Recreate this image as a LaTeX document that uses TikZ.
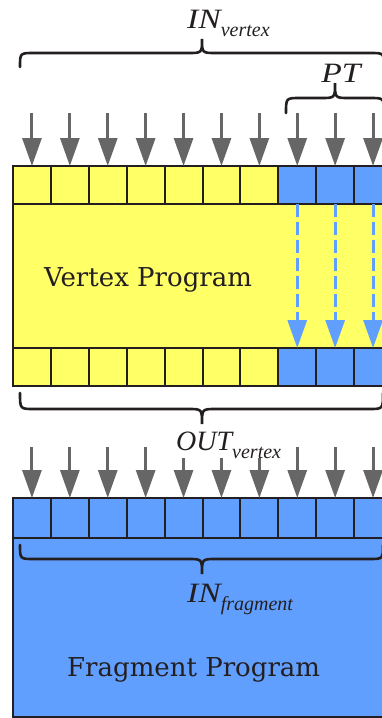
\documentclass[tikz,border=0pt]{standalone}
\usepackage{fontspec}
\usetikzlibrary{arrows.meta}
\newfontfamily\lblfont{Liberation Serif}
\newfontfamily\prgfont{DejaVu Serif}
\definecolor{vyel}{HTML}{FFFF66}
\definecolor{fblue}{HTML}{619FFF}
\definecolor{agray}{HTML}{666666}
\definecolor{ink}{HTML}{231F20}
\newcommand\bigit[2][1.2]{\scalebox{#1}[1]{\lblfont\itshape\fontsize{28}{28}\selectfont #2}}
\newcommand\subit[1]{\raisebox{-8pt}{\lblfont\itshape\fontsize{20}{20}\selectfont #1}}
\newcommand\bracepath[6]{% x1 x2 yend ymid ytip xtip
  \draw[bracestyle] (#1,#3) .. controls (#1,#4) .. ({#1+14},#4) -- ({#6-14},#4)
    .. controls (#6,#4) .. (#6,#5) .. controls (#6,#4) .. ({#6+14},#4)
    -- ({#2-14},#4) .. controls (#2,#4) .. (#2,#3);}
\begin{document}
\begin{tikzpicture}[x=1pt,y=-1pt,
  cell/.style={draw=ink, line width=2pt, minimum width=37.9pt, minimum height=38pt, inner sep=0pt, outer sep=0pt},
  ycell/.style={cell, fill=vyel},
  bcell/.style={cell, fill=fblue},
  bigbox/.style={draw=ink, line width=2pt, inner sep=0pt, outer sep=0pt, anchor=north west},
  inarrow/.style={draw=agray, line width=3pt, -{Triangle[length=28pt,width=19pt]}},
  ptarrow/.style={draw=fblue, line width=3pt, dash pattern=on 13pt off 5pt, -{Triangle[length=28pt,width=19pt]}},
  bracestyle/.style={draw=ink, line width=2.6pt, line cap=round},
  lbl/.style={text=ink, inner sep=0pt, anchor=base west},
  prog/.style={text=ink, inner sep=0pt, anchor=base west, font=\prgfont\fontsize{26}{30}\selectfont}
]
\useasboundingbox (0,0) rectangle (382,718);
\clip (0,0) rectangle (382,718);

% vertex program
\node[bigbox, fill=vyel, minimum width=379pt, minimum height=220pt] (vbox) at (13,166) {};
\foreach \i/\st in {0/ycell,1/ycell,2/ycell,3/ycell,4/ycell,5/ycell,6/ycell,7/bcell,8/bcell,9/bcell}{
  \pgfmathsetmacro\cx{13+37.9*(\i+0.5)}
  \node[\st] (vt\i) at (\cx,185) {};
  \node[\st] (vb\i) at (\cx,367) {};
  \coordinate (vs\i) at (\cx,113);
  \draw[inarrow] (vs\i) -- (vt\i.north);
}
\foreach \i in {7,8,9}{
  \draw[ptarrow] (vt\i.south) -- (vb\i.north);
}
\node[prog] (vprog) at (44,286) {Vertex Program};

% fragment program
\node[bigbox, fill=fblue, minimum width=379pt, minimum height=219pt] (fbox) at (13,498) {};
\foreach \i/\sy in {0/447,1/447,2/447,3/447,4/458,5/458,6/458,7/447,8/447,9/447}{
  \pgfmathsetmacro\cx{13+37.9*(\i+0.5)}
  \node[bcell, minimum height=40pt] (fr\i) at (\cx,518) {};
  \coordinate (fs\i) at (\cx,\sy);
  \draw[inarrow] (fs\i) -- (fr\i.north);
}
\node[prog] (fprog) at (67,676) {Fragment Program};

% braces
\bracepath{20}{384}{67}{53}{39}{202}
\bracepath{286}{384}{113}{98}{83}{335}
\bracepath{20}{383}{393}{409}{424}{202}
\bracepath{20}{383}{545}{559}{574}{202}

% labels
\node[lbl] (invl) at (187,28) {\bigit{IN}\subit{vertex}};
\node[lbl, anchor=base] (ptl) at (341,82) {\bigit{PT}};
\node[lbl] (outvl) at (176,450) {\bigit[1]{OUT}\subit{vertex}};
\node[lbl] (infl) at (187,602) {\bigit{IN}\subit{fragment}};
\end{tikzpicture}
\end{document}
